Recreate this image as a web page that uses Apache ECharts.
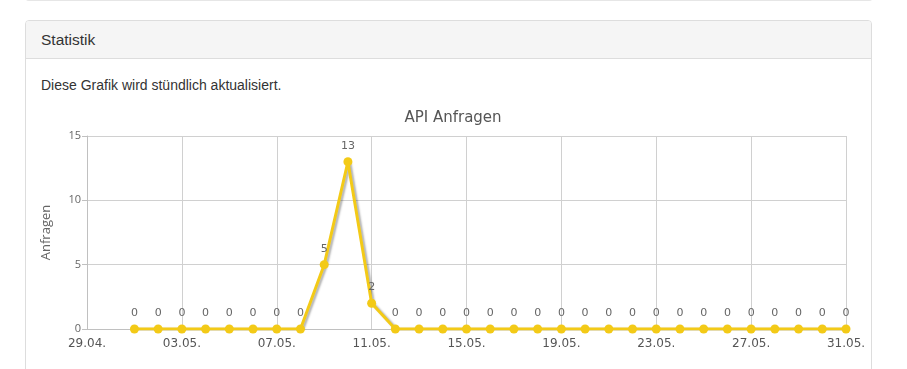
<!DOCTYPE html>
<html>
<head>
<meta charset="utf-8">
<script src="https://cdn.jsdelivr.net/npm/echarts@6/dist/echarts.min.js"></script>
<style>
  html, body { margin: 0; padding: 0; width: 907px; height: 369px; background: #fff; overflow: hidden; font-family: "Liberation Sans", Arial, sans-serif; }
  .prev { position: absolute; left: 25px; top: -6px; width: 846px; height: 6px; border: 1px solid #e6e6e6; border-top: none; border-radius: 0 0 4px 4px; }
  .panel { position: absolute; left: 25px; top: 20px; width: 845px; height: 400px; border: 1px solid #ddd; border-radius: 4px; }
  .head { height: 37px; background: #f5f5f5; border-bottom: 1px solid #ddd; border-radius: 3px 3px 0 0; }
  .head span { position: absolute; left: 15px; top: 10px; font-size: 15.5px; color: #333; }
  .info { position: absolute; left: 15px; top: 56px; font-size: 14px; color: #333; }
  #chart { position: absolute; left: 0; top: 0; width: 907px; height: 369px; }
</style>
</head>
<body>
<div class="prev"></div>
<div class="panel">
  <div class="head"><span>Statistik</span></div>
  <div class="info">Diese Grafik wird stündlich aktualisiert.</div>
</div>
<div id="chart"></div>
<script>
// Axis categories: every day from 29.04. to 31.05.
const days = ['29.04.','30.04.','01.05.','02.05.','03.05.','04.05.','05.05.','06.05.','07.05.','08.05.','09.05.','10.05.','11.05.','12.05.','13.05.','14.05.','15.05.','16.05.','17.05.','18.05.','19.05.','20.05.','21.05.','22.05.','23.05.','24.05.','25.05.','26.05.','27.05.','28.05.','29.05.','30.05.','31.05.'];
// Requests per day (no data for 29.04. and 30.04.)
const requests = [null, null, 0,0,0,0,0,0,0,0,5,13,2,0,0,0,0,0,0,0,0,0,0,0,0,0,0,0,0,0,0,0,0];
const yTicks = [0, 5, 10, 15];

const chart = echarts.init(document.getElementById('chart'), null, { renderer: 'canvas' });
chart.setOption({
  animation: false,
  title: {
    text: 'API Anfragen', left: 448, top: 106, textAlign: 'center',
    textStyle: { fontFamily: 'DejaVu Sans', fontSize: 15, fontWeight: 'normal', color: '#555' }
  },
  grid: { left: 87, right: 61, top: 136, bottom: 40, containLabel: false },
  xAxis: {
    type: 'category', data: days, boundaryGap: false,
    axisLine: { lineStyle: { color: '#c0c0c0' } },
    axisTick: { show: false },
    axisLabel: { interval: 3, color: '#555', fontFamily: 'DejaVu Sans', fontSize: 12, margin: 9 },
    splitLine: { show: true, interval: 3, lineStyle: { color: '#d0d0d0' } }
  },
  yAxis: {
    type: 'value', min: yTicks[0], max: yTicks[yTicks.length - 1], interval: 5,
    name: 'Anfragen', nameLocation: 'middle', nameGap: 34,
    nameTextStyle: { fontFamily: 'Open Sans', fontSize: 13, color: '#666' },
    axisLine: { show: true, lineStyle: { color: '#c0c0c0' } },
    axisTick: { show: true, length: 5, lineStyle: { color: '#c0c0c0' } },
    axisLabel: { color: '#666', fontFamily: 'Open Sans', fontSize: 11, margin: 6 },
    splitLine: { lineStyle: { color: '#d0d0d0' } }
  },
  series: [{
    type: 'line', data: requests, connectNulls: false,
    symbol: 'circle', symbolSize: 9,
    itemStyle: { color: '#f3ca17' },
    lineStyle: { width: 3, color: '#f3ca17', shadowColor: 'rgba(0,0,0,0.3)', shadowBlur: 2, shadowOffsetX: 2, shadowOffsetY: 1 },
    label: { show: true, position: 'top', distance: 6, color: '#666', fontFamily: 'DejaVu Sans', fontSize: 11 }
  }]
});
</script>
</body>
</html>
